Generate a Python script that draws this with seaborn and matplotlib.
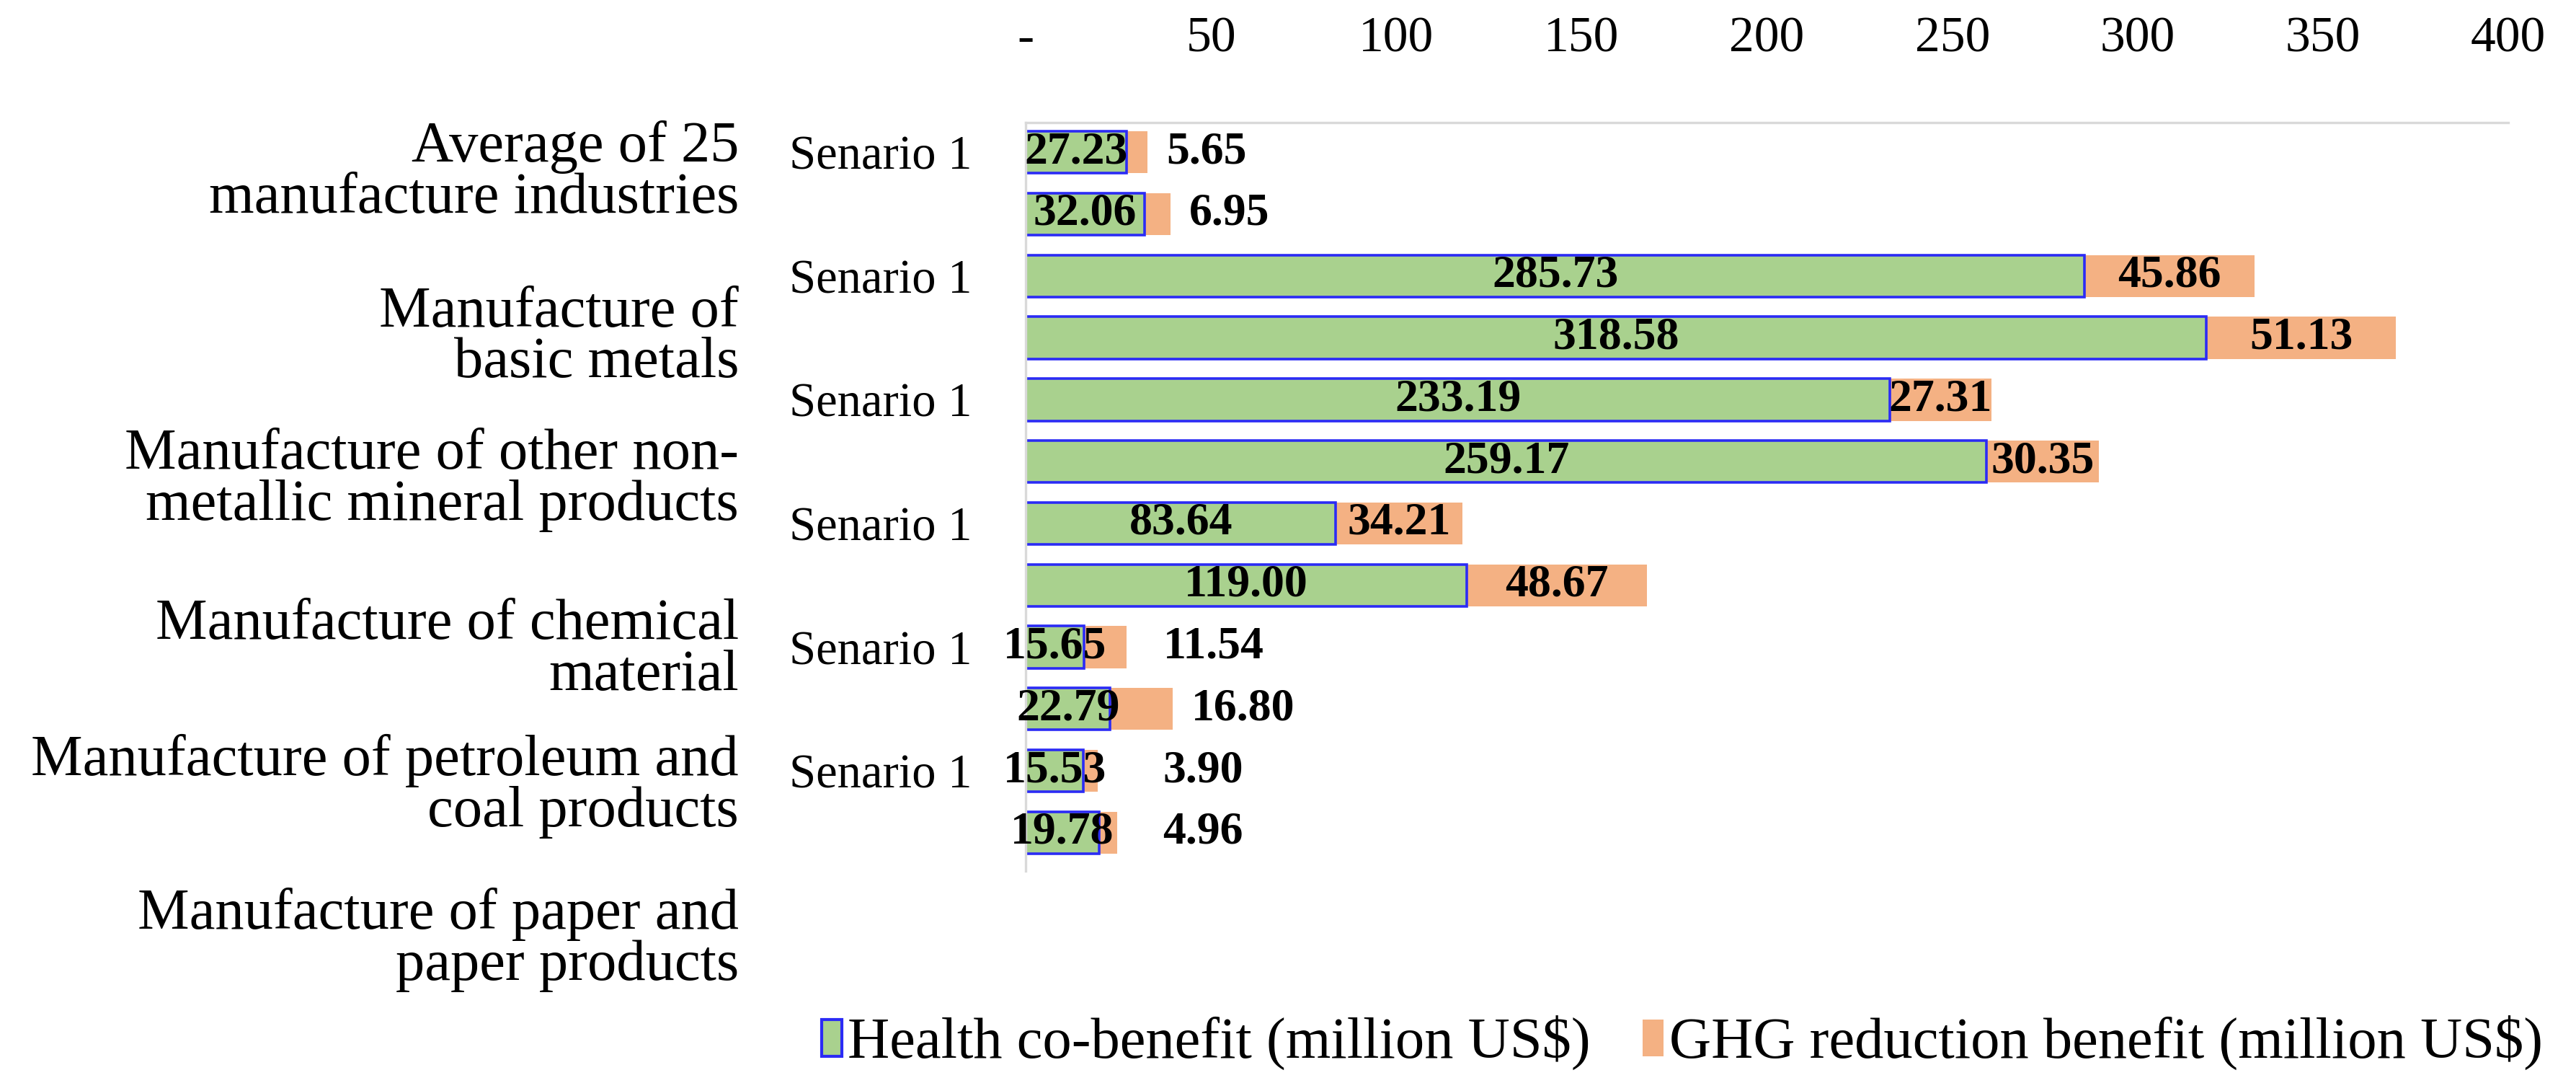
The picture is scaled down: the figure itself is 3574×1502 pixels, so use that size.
import matplotlib
matplotlib.use('Agg')
import pandas as pd
import seaborn as sns
import matplotlib.pyplot as plt
import matplotlib.transforms as mtransforms
from matplotlib.patches import Patch

# Values
industries = [
    'Average of 25\nmanufacture industries',
    'Manufacture of\nbasic metals',
    'Manufacture of other non-\nmetallic mineral products',
    'Manufacture of chemical\nmaterial',
    'Manufacture of petroleum and\ncoal products',
    'Manufacture of paper and\npaper products',
]
scenario_labels = ['Senario 1', '']
health_s1 = [27.23, 285.73, 233.19, 83.64, 15.65, 15.53]
health_s2 = [32.06, 318.58, 259.17, 119.00, 22.79, 19.78]
ghg_s1 = [5.65, 45.86, 27.31, 34.21, 11.54, 3.90]
ghg_s2 = [6.95, 51.13, 30.35, 48.67, 16.80, 4.96]
x_ticks = [0, 50, 100, 150, 200, 250, 300, 350, 400]
x_ticklabels = ['-', '50', '100', '150', '200', '250', '300', '350', '400']
legend_labels = ['Health co-benefit (million US$)', 'GHG reduction benefit (million US$)']

# layout: where the (misaligned) category labels sit, in bar-row units
cat_label_y = [0.33, 3.0, 5.3, 8.05, 10.25, 12.73]

green = '#A9D18E'
orange = '#F4B183'
blue_edge = '#2B2BF5'

rows, health, ghg, ylabels = [], [], [], []
for i in range(len(industries)):
    pairs = [(health_s1[i], ghg_s1[i]), (health_s2[i], ghg_s2[i])]
    for j, (h, g) in enumerate(pairs):
        rows.append(f'{i}-{j}')
        health.append(h)
        ghg.append(g)
        ylabels.append(scenario_labels[j])

df = pd.DataFrame({'row': rows, 'health': health, 'ghg': ghg})
df['total'] = df['health'] + df['ghg']

sns.set_style('white')
plt.rcParams['font.family'] = ['Liberation Serif', 'DejaVu Serif']
plt.rcParams['text.color'] = 'black'
plt.rcParams['xtick.color'] = 'black'
plt.rcParams['ytick.color'] = 'black'

fig = plt.figure(figsize=(17.87, 7.51), dpi=200)
ax = fig.add_axes([0.3982, 0.1957, 0.5755, 0.6911])

# stacked bars: total (orange) underneath, health (green) on top
sns.barplot(data=df, x='total', y='row', order=rows, color=orange, saturation=1,
            width=0.68, linewidth=0, errorbar=None, ax=ax)
sns.barplot(data=df, x='health', y='row', order=rows, color=green, saturation=1,
            width=0.68, edgecolor=blue_edge, linewidth=1.3, errorbar=None, ax=ax)

ax.set_xlim(0, 400)
ax.set_ylim(11.62, -0.48)
ax.set_xlabel('')
ax.set_ylabel('')

ax.xaxis.tick_top()
ax.set_xticks(x_ticks)
ax.set_xticklabels(x_ticklabels)
ax.tick_params(axis='x', length=0, pad=30, labelsize=25, top=True, labeltop=True,
               bottom=False, labelbottom=False, labelcolor='black')
ax.set_yticks(range(len(rows)))
ax.set_yticklabels(ylabels)
ax.tick_params(axis='y', length=0, pad=27, labelsize=24, labelcolor='black')

for s in ['right', 'bottom']:
    ax.spines[s].set_visible(False)
for s in ['top', 'left']:
    ax.spines[s].set_color('#D9D9D9')
    ax.spines[s].set_linewidth(1.2)

# value labels
for k, r in df.iterrows():
    ax.text(r['health'] / 2, k, f"{r['health']:.2f}", ha='center', va='center',
            fontsize=23, fontweight='bold', color='black')
    if r['ghg'] >= 20:
        ax.text(r['health'] + r['ghg'] / 2, k, f"{r['ghg']:.2f}", ha='center',
                va='center', fontsize=23, fontweight='bold', color='black')
    else:
        ax.text(max(r['total'] + 5, 37), k, f"{r['ghg']:.2f}", ha='left',
                va='center', fontsize=23, fontweight='bold', color='black')

# category labels on the far left
trans = mtransforms.blended_transform_factory(fig.transFigure, ax.transData)
for name, y in zip(industries, cat_label_y):
    ax.text(0.2868, y, name, transform=trans, ha='right', va='center',
            multialignment='right', fontsize=29, linespacing=0.96, clip_on=False,
            color='black')

handles = [Patch(facecolor=green, edgecolor=blue_edge, linewidth=1.5),
           Patch(facecolor=orange, edgecolor='none')]
fig.legend(handles, legend_labels, loc='center', bbox_to_anchor=(0.653, 0.0366),
           ncol=2, frameon=False, fontsize=29, handlelength=0.35, handleheight=0.6,
           handletextpad=0.1, columnspacing=0.9, labelcolor='black')

fig.savefig('out.png', dpi=200)
